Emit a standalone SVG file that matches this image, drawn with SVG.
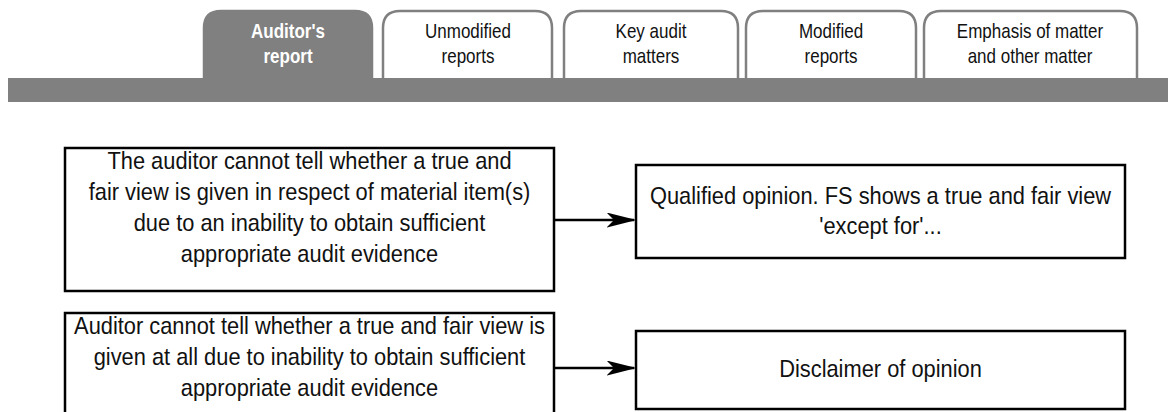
<svg xmlns="http://www.w3.org/2000/svg" width="1168" height="412" viewBox="0 0 1168 412">
<style>
.tab{fill:#ffffff;stroke:#808080;stroke-width:2.5}
.tabon{fill:#808080;stroke:#808080;stroke-width:2.5}
.tt{font-family:"Liberation Sans",Arial,sans-serif;font-size:20px;fill:#111;text-anchor:middle}
.tton{font-family:"Liberation Sans",Arial,sans-serif;font-size:20px;font-weight:bold;fill:#fff;text-anchor:middle}
.box{fill:#fff;stroke:#000;stroke-width:2.5}
.bt{font-family:"Liberation Sans",Arial,sans-serif;font-size:24px;fill:#111;text-anchor:middle}
.conn{stroke:#000;stroke-width:2.5;fill:none}
</style>
<defs>
<marker id="arr" markerWidth="12" markerHeight="6" refX="11" refY="3" orient="auto" markerUnits="strokeWidth">
<path d="M0,0 L12,3 L0,6 L3,3 Z" fill="#000"/>
</marker>
</defs>
<rect width="1168" height="412" fill="#fff"/>
<g id="tab-auditors-report">
<path class="tabon" d="M204,80 V28 Q204,11 221,11 H355 Q372,11 372,28 V80 Z"/>
<text class="tton" transform="translate(288,38) scale(0.85,1)">Auditor's</text>
<text class="tton" transform="translate(288,63) scale(0.85,1)">report</text>
</g>
<g id="tab-unmodified">
<path class="tab" d="M383,80 V28 Q383,11 400,11 H535 Q552,11 552,28 V80 Z"/>
<text class="tt" transform="translate(468,38) scale(0.85,1)">Unmodified</text>
<text class="tt" transform="translate(468,63) scale(0.85,1)">reports</text>
</g>
<g id="tab-key-audit">
<path class="tab" d="M564,80 V28 Q564,11 581,11 H721 Q738,11 738,28 V80 Z"/>
<text class="tt" transform="translate(651,38) scale(0.85,1)">Key audit</text>
<text class="tt" transform="translate(651,63) scale(0.85,1)">matters</text>
</g>
<g id="tab-modified">
<path class="tab" d="M746,80 V28 Q746,11 763,11 H899 Q916,11 916,28 V80 Z"/>
<text class="tt" transform="translate(831,38) scale(0.85,1)">Modified</text>
<text class="tt" transform="translate(831,63) scale(0.85,1)">reports</text>
</g>
<g id="tab-emphasis">
<path class="tab" d="M924,80 V28 Q924,11 941,11 H1120 Q1137,11 1137,28 V80 Z"/>
<text class="tt" transform="translate(1030,38) scale(0.85,1)">Emphasis of matter</text>
<text class="tt" transform="translate(1030,63) scale(0.85,1)">and other matter</text>
</g>
<rect id="bar" x="8" y="78" width="1160" height="24" fill="#808080"/>
<g id="box-cannot-tell">
<rect class="box" x="65" y="148" width="489" height="143"/>
<text class="bt" transform="translate(309.5,169) scale(0.91,1)">The auditor cannot tell whether a true and</text>
<text class="bt" transform="translate(309.5,200) scale(0.91,1)">fair view is given in respect of material item(s)</text>
<text class="bt" transform="translate(309.5,231) scale(0.91,1)">due to an inability to obtain sufficient</text>
<text class="bt" transform="translate(309.5,262) scale(0.91,1)">appropriate audit evidence</text>
</g>
<g id="box-cannot-tell-all">
<rect class="box" x="65" y="313" width="489" height="110"/>
<text class="bt" transform="translate(309.5,334) scale(0.91,1)">Auditor cannot tell whether a true and fair view is</text>
<text class="bt" transform="translate(309.5,365) scale(0.91,1)">given at all due to inability to obtain sufficient</text>
<text class="bt" transform="translate(309.5,396) scale(0.91,1)">appropriate audit evidence</text>
</g>
<g id="box-qualified">
<rect class="box" x="636" y="165" width="489" height="93"/>
<text class="bt" transform="translate(880.5,204) scale(0.91,1)">Qualified opinion. FS shows a true and fair view</text>
<text class="bt" transform="translate(880.5,234) scale(0.91,1)">'except for'...</text>
</g>
<g id="box-disclaimer">
<rect class="box" x="636" y="331" width="489" height="78"/>
<text class="bt" transform="translate(880.5,377) scale(0.91,1)">Disclaimer of opinion</text>
</g>
<g id="connectors">
<line class="conn" x1="554" y1="220" x2="634" y2="220" marker-end="url(#arr)"/>
<line class="conn" x1="554" y1="368" x2="634" y2="368" marker-end="url(#arr)"/>
</g>
</svg>
